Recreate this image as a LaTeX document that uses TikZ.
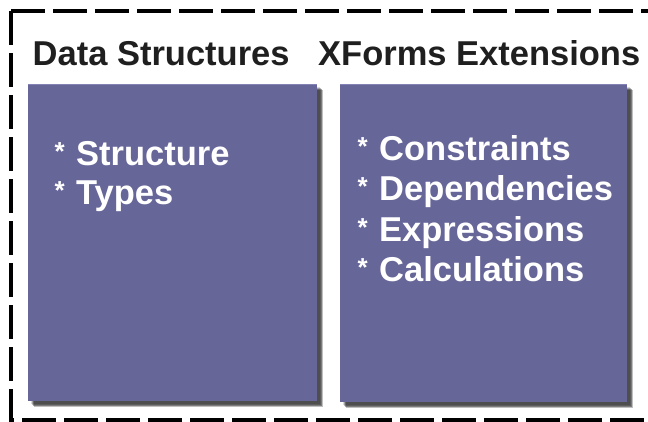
\documentclass[tikz,border=0pt]{standalone}
\usepackage{fontspec}
\setmainfont{Liberation Sans}
\definecolor{boxpurple}{RGB}{102,102,153}
\definecolor{boxtop}{RGB}{130,130,180}
\newcommand{\bul}{\makebox[23pt][l]{\hspace{1.5pt}\raisebox{5pt}{\fontsize{26}{30}\bfseries\selectfont *}}}
\begin{document}
\begin{tikzpicture}[x=1pt,y=-1pt,
  frame/.style={line width=4.5pt,black,dash pattern=on 34pt off 8pt},
  panel/.style={fill=boxpurple,draw=none},
  heading/.style={anchor=base west,inner sep=0pt,font=\fontsize{34.5}{40}\bfseries\selectfont,text=black!88},
  item/.style={anchor=base west,inner sep=0pt,font=\fontsize{34.5}{40}\bfseries\selectfont,text=white}]
\useasboundingbox (0,0) rectangle (648,421);
\fill[white] (0,0) rectangle (648,421);
\begin{scope}
\clip (0,0) rectangle (648,421);
% dashed frame
\draw[frame] (11,11) -- (660,11);
\draw[frame] (11,11) -- (11,420) -- (660,420);
% shadows
\foreach \dx/\op in {3/0.15,4/0.25,5/0.35,6/0.25} {
  \fill[black,opacity=\op] (28+\dx,84+\dx) rectangle (317+\dx,401+\dx);
  \fill[black,opacity=\op] (340+\dx,84+\dx) rectangle (627+\dx,402+\dx);
}
\end{scope}
% panels
\node[panel,minimum width=289pt,minimum height=317pt,inner sep=0pt,anchor=north west] (left) at (28,84) {};
\node[panel,minimum width=287pt,minimum height=318pt,inner sep=0pt,anchor=north west] (right) at (340,84) {};
\draw[boxtop,line width=1pt] (left.north west) ++(0,0.5) -- ([yshift=-0.5pt]left.north east);
\draw[boxtop,line width=1pt] (right.north west) ++(0,0.5) -- ([yshift=-0.5pt]right.north east);
% headings
\node[heading] (h1) at (32.5,65) {Data Structures};
\node[heading] (h2) at (318,65) {XForms Extensions};
% items
\node[item] (l1) at (53,165) {\bul Structure};
\node[item] (l2) at (53,204) {\bul Types};
\node[item] (r1) at (356,160) {\bul Constraints};
\node[item] (r2) at (356,200) {\bul Dependencies};
\node[item] (r3) at (356,241) {\bul Expressions};
\node[item] (r4) at (356,281) {\bul Calculations};
\end{tikzpicture}
\end{document}
